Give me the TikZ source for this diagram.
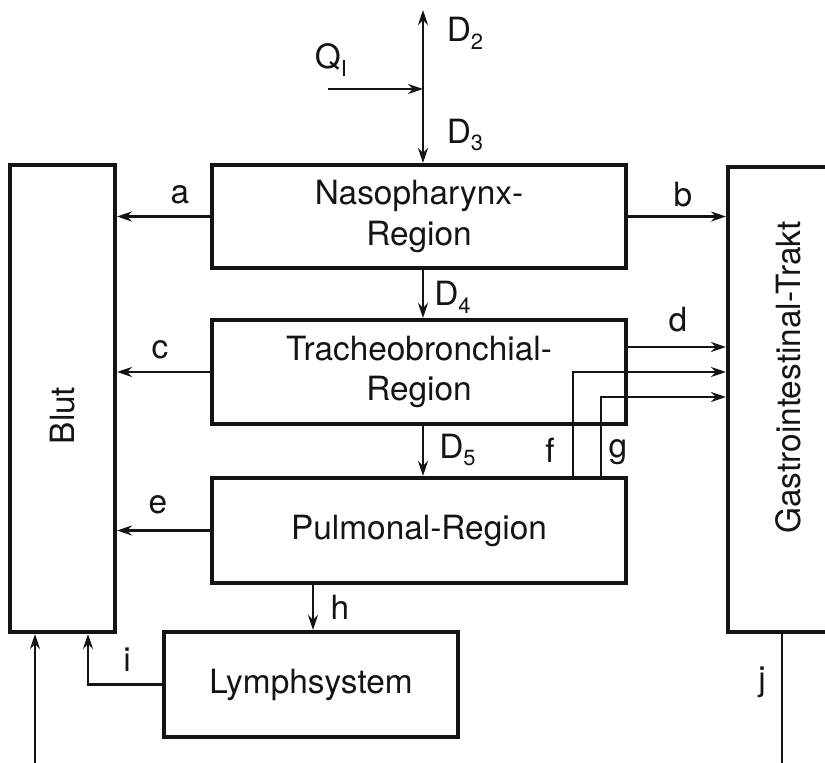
\documentclass[tikz,border=0pt]{standalone}
\usepackage{fontspec}
\setmainfont{TeX Gyre Heros}
\usepackage{graphicx}
\usetikzlibrary{arrows.meta,positioning,calc}
\definecolor{ink}{HTML}{141414}
\newcommand{\lowidx}[1]{\raisebox{-.45ex}{\fontsize{12.5}{12.5}\selectfont #1}}

\begin{document}
\begin{tikzpicture}[
  font=\fontsize{19}{23}\selectfont,
  box/.style={draw=ink,line width=2.3pt,inner sep=0pt,align=center,text=ink},
  arr/.style={ink,line width=1.3pt,-{Stealth[length=3mm,width=2mm]}},
  wire/.style={ink,line width=1.3pt},
  lbl/.style={text=ink,inner sep=0pt}]
\useasboundingbox (0,0) rectangle (16.5,15.26);
\clip (0,0) rectangle (16.5,15.26);
\node[box,minimum width=2.1cm,minimum height=9.34cm] (blut) at (1.25,7.29) {\rotatebox{90}{Blut\hspace*{.68cm}}};
\node[box,minimum width=2.4cm,minimum height=9.3cm] (gi) at (15.76,7.27) {\rotatebox{90}{\hspace*{.88cm}Gastrointestinal-Trakt}};
\node[box,minimum width=8.28cm,minimum height=2.06cm] (naso) at (8.38,10.93) {Nasopharynx-\\Region};
\node[box,minimum width=8.28cm,minimum height=2.08cm] (tracheo) at (8.38,7.82) {Tracheobronchial-\\Region};
\node[box,minimum width=8.28cm,minimum height=2.1cm] (pulmo) at (8.38,4.65) {Pulmonal-Region};
\node[box,minimum width=5.88cm,minimum height=2.1cm] (lymph) at (6.22,1.57) {Lymphsystem};
\coordinate (top) at (8.46,15.06);
\coordinate (q) at (8.46,13.48);
\coordinate (qin) at (6.56,13.48);
\coordinate (fk) at (11.46,7.82);
\coordinate (gk) at (12.02,7.32);
\coordinate (hk) at (6.26,0);
\coordinate (ik) at (1.76,0);
\coordinate (bin) at (0.7,0);
\coordinate (jout) at (15.64,0);
\draw[arr] (q) -- (top);
\draw[arr] (q) -- (naso.north -| q);
\draw[arr] (qin) -- (q);
\draw[arr] (naso.south -| q) -- (tracheo.north -| q);
\draw[arr] (tracheo.south -| q) -- (pulmo.north -| q);
\draw[arr] (naso.west) -- (naso.west -| blut.east);
\draw[arr] (naso.east) -- (naso.east -| gi.west);
\draw[arr] (tracheo.west) -- (tracheo.west -| blut.east);
\draw[arr] ([yshift=5mm]tracheo.east) -- ([yshift=5mm]tracheo.east -| gi.west);
\draw[arr] (pulmo.north -| fk) |- (fk -| gi.west);
\draw[arr] (pulmo.north -| gk) |- (gk -| gi.west);
\draw[arr] (pulmo.west) -- (pulmo.west -| blut.east);
\draw[arr] (pulmo.south -| hk) -- (lymph.north -| hk);
\draw[arr] (lymph.west) -| (blut.south -| ik);
\draw[arr] (bin) -- (bin |- blut.south);
\draw[wire] (gi.south -| jout) -- (jout);
\node[lbl] (ld2) at (9.3,14.6) {D\lowidx{2}};
\node[lbl] (lq) at (6.62,14.06) {Q\lowidx{I}};
\node[lbl] (ld3) at (9.3,12.56) {D\lowidx{3}};
\node[lbl] (ld4) at (9.05,9.32) {D\lowidx{4}};
\node[lbl] (ld5) at (9.15,6.26) {D\lowidx{5}};
\node[lbl] (la) at (3.6,11.36) {a};
\node[lbl] (lb) at (13.66,11.36) {b};
\node[lbl] (lc) at (3.2,8.26) {c};
\node[lbl] (ld) at (13.56,8.86) {d};
\node[lbl] (le) at (3.16,5.16) {e};
\node[lbl] (lf) at (11.0,6.26) {f};
\node[lbl] (lg) at (12.36,6.22) {g};
\node[lbl] (lh) at (6.8,3.12) {h};
\node[lbl] (li) at (2.54,2.06) {i};
\node[lbl] (lj) at (15.24,1.62) {j};
\end{tikzpicture}
\end{document}
